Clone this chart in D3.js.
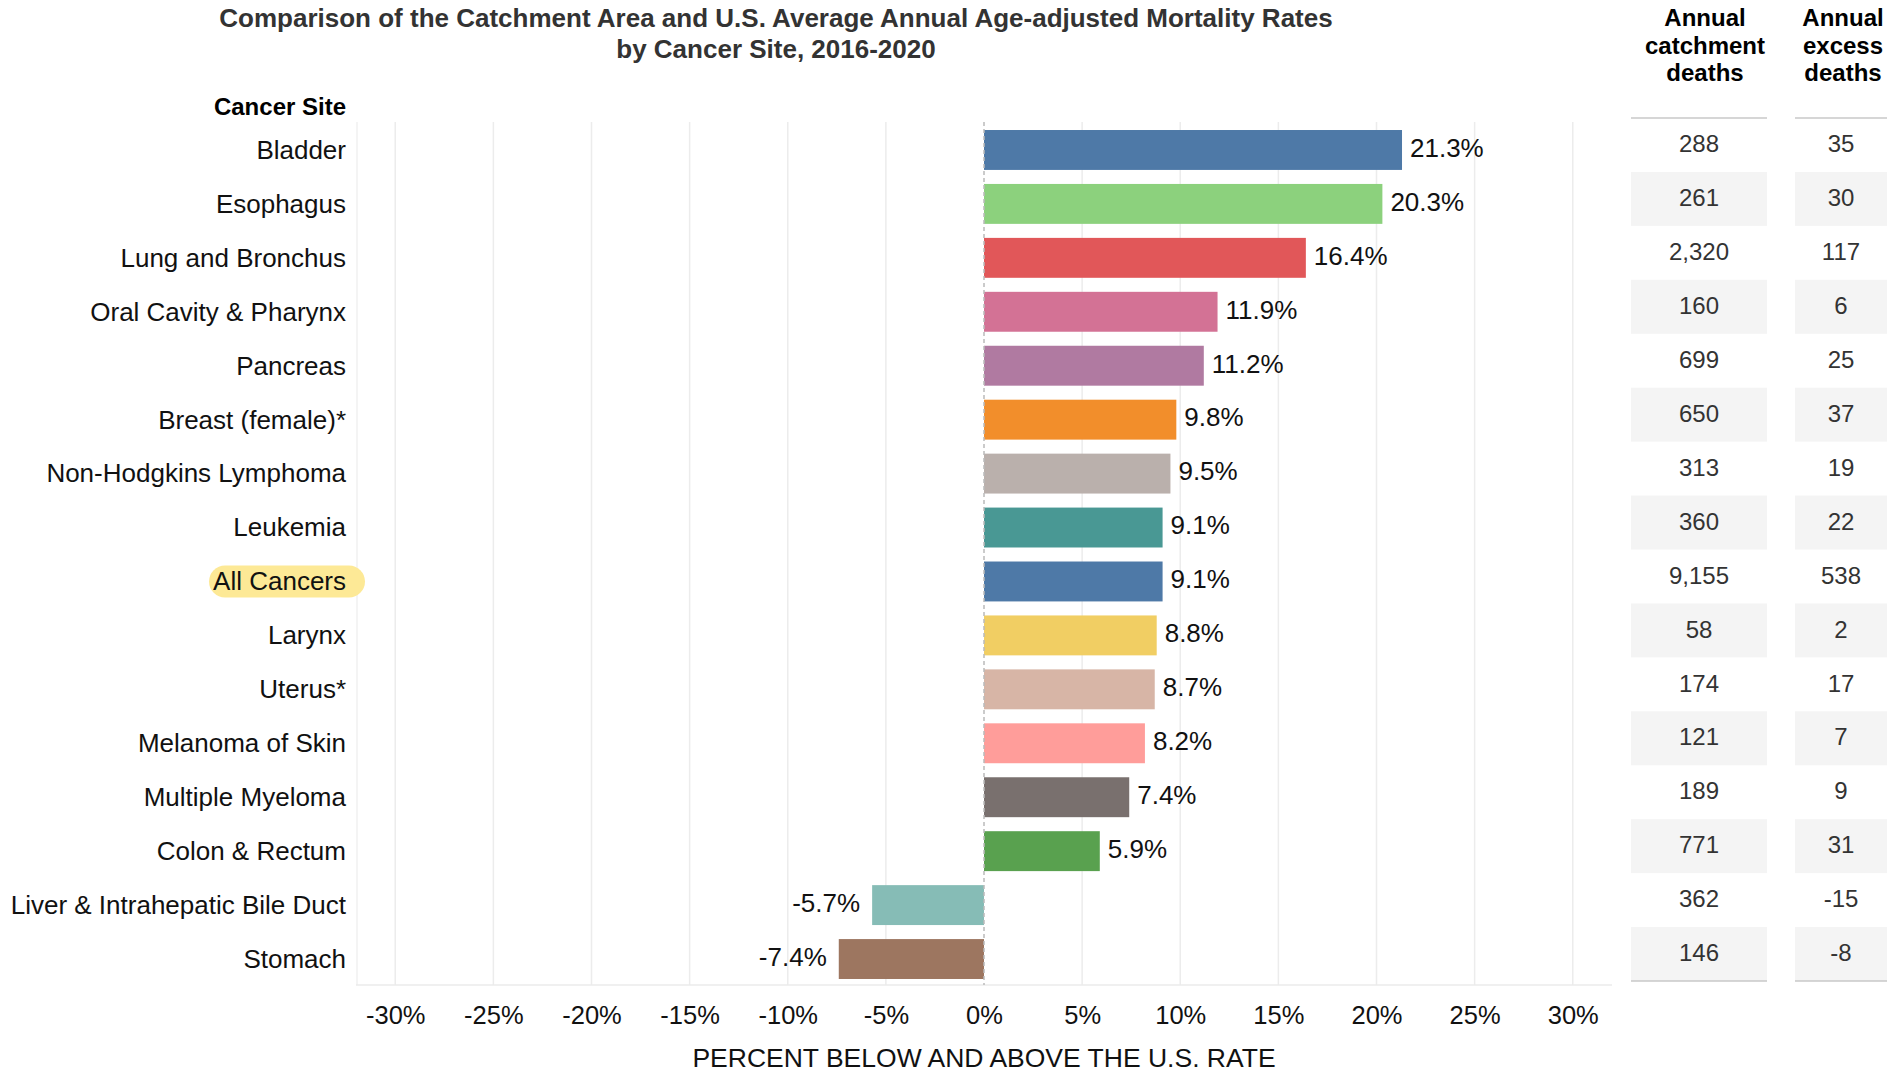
<!doctype html>
<html lang="en">
<head>
  <meta charset="utf-8">
  <style>
    body { margin: 0; background: #fff; }
    text { font-family: Arial, "Liberation Sans", sans-serif; }
  </style>
</head>
<body>
  <script src="https://d3js.org/d3.v7.min.js"></script>
  <div id="chart"></div>
  <script>
  // data
  var sites = ["Bladder", "Esophagus", "Lung and Bronchus", "Oral Cavity & Pharynx", "Pancreas",
    "Breast (female)*", "Non-Hodgkins Lymphoma", "Leukemia", "All Cancers", "Larynx", "Uterus*",
    "Melanoma of Skin", "Multiple Myeloma", "Colon & Rectum", "Liver & Intrahepatic Bile Duct", "Stomach"];
  var pctDiff = [21.3, 20.3, 16.4, 11.9, 11.2, 9.8, 9.5, 9.1, 9.1, 8.8, 8.7, 8.2, 7.4, 5.9, -5.7, -7.4];
  var catchmentDeaths = [288, 261, 2320, 160, 699, 650, 313, 360, 9155, 58, 174, 121, 189, 771, 362, 146];
  var excessDeaths = [35, 30, 117, 6, 25, 37, 19, 22, 538, 2, 17, 7, 9, 31, -15, -8];
  var barColors = ["#4e79a7", "#8cd17d", "#e15759", "#d37295", "#b07aa1", "#f28e2b", "#bab0ac", "#499894",
    "#4e79a7", "#f1ce63", "#d7b5a6", "#ff9d9a", "#79706e", "#59a14f", "#86bcb6", "#9d7660"];
  var xTicks = [-30, -25, -20, -15, -10, -5, 0, 5, 10, 15, 20, 25, 30];

  var width = 1903, height = 1073;
  var plot = {left: 356, right: 1612, top: 122, bottom: 985};

  var svg = d3.select("#chart").append("svg")
      .attr("width", width)
      .attr("height", height);

  var x = d3.scaleLinear()
      .domain([-32, 32])
      .range([plot.left, plot.right]);

  var y = d3.scaleBand()
      .domain(sites)
      .range([plot.top, plot.bottom])
      .paddingInner(0.26)
      .paddingOuter(0.13);

  // title
  var title = svg.append("text")
      .attr("x", 776)
      .attr("y", 27)
      .attr("text-anchor", "middle")
      .style("font-size", "26px")
      .style("font-weight", "bold")
      .style("fill", "#333");
  title.append("tspan").attr("x", 776).text("Comparison of the Catchment Area and U.S. Average Annual Age-adjusted Mortality Rates");
  title.append("tspan").attr("x", 776).attr("dy", 31).text("by Cancer Site, 2016-2020");

  svg.append("text")
      .attr("x", 346)
      .attr("y", 115)
      .attr("text-anchor", "end")
      .style("font-size", "24px")
      .style("font-weight", "bold")
      .style("fill", "#000")
      .text("Cancer Site");

  // grid
  svg.append("g").selectAll("line")
      .data(xTicks.filter(function (d) { return d != 0; }))
      .join("line")
      .attr("x1", function (d) { return x(d); })
      .attr("x2", function (d) { return x(d); })
      .attr("y1", plot.top)
      .attr("y2", plot.bottom)
      .attr("stroke", "#ececec")
      .attr("stroke-width", 1.5);

  svg.append("line")
      .attr("x1", plot.left + 1).attr("x2", plot.left + 1)
      .attr("y1", plot.top).attr("y2", plot.bottom)
      .attr("stroke", "#f0f0f0").attr("stroke-width", 1.5);
  svg.append("line")
      .attr("x1", plot.left).attr("x2", plot.right)
      .attr("y1", plot.bottom).attr("y2", plot.bottom)
      .attr("stroke", "#ebebeb").attr("stroke-width", 1.5);

  // highlight behind All Cancers
  svg.append("rect")
      .attr("x", 209)
      .attr("y", y("All Cancers") + y.bandwidth() / 2 - 15)
      .attr("width", 156)
      .attr("height", 32)
      .attr("rx", 16)
      .attr("fill", "#fde996");

  // bars
  svg.append("g").selectAll("rect")
      .data(sites)
      .join("rect")
      .attr("x", function (d, i) { return x(Math.min(0, pctDiff[i])); })
      .attr("y", function (d) { return y(d) + 1; })
      .attr("width", function (d, i) { return Math.abs(x(pctDiff[i]) - x(0)); })
      .attr("height", y.bandwidth())
      .attr("fill", function (d, i) { return barColors[i]; });

  // zero line
  svg.append("line")
      .attr("x1", x(0)).attr("x2", x(0))
      .attr("y1", plot.top).attr("y2", plot.bottom)
      .attr("stroke", "#bbb")
      .attr("stroke-width", 1.5)
      .attr("stroke-dasharray", "4,3");

  // value labels
  svg.append("g").selectAll("text")
      .data(sites)
      .join("text")
      .attr("x", function (d, i) { return pctDiff[i] >= 0 ? x(pctDiff[i]) + 8 : x(pctDiff[i]) - 12; })
      .attr("y", function (d) { return y(d) + y.bandwidth() / 2; })
      .attr("dy", "0.3em")
      .attr("text-anchor", function (d, i) { return pctDiff[i] >= 0 ? "start" : "end"; })
      .style("font-size", "26px")
      .style("fill", "#111")
      .text(function (d, i) { return pctDiff[i].toFixed(1) + "%"; });

  // category labels
  svg.append("g").selectAll("text")
      .data(sites)
      .join("text")
      .attr("x", 346)
      .attr("y", function (d) { return y(d) + y.bandwidth() / 2; })
      .attr("dy", "0.38em")
      .attr("text-anchor", "end")
      .style("font-size", "26px")
      .style("fill", "#111")
      .text(function (d) { return d; });

  // x axis
  var xAxis = svg.append("g")
      .attr("transform", "translate(0," + plot.bottom + ")")
      .call(d3.axisBottom(x).tickValues(xTicks).tickSize(0).tickPadding(39)
        .tickFormat(function (d) { return d + "%"; }));
  xAxis.select(".domain").remove();
  xAxis.selectAll("text")
      .attr("dy", 0)
      .style("font-size", "25.5px")
      .style("font-family", "Arial, 'Liberation Sans', sans-serif")
      .style("fill", "#111");

  svg.append("text")
      .attr("x", x(0))
      .attr("y", 1067)
      .attr("text-anchor", "middle")
      .style("font-size", "26.5px")
      .style("fill", "#111")
      .text("PERCENT BELOW AND ABOVE THE U.S. RATE");

  // side table
  var cols = [
    {head: ["Annual", "catchment", "deaths"], vals: catchmentDeaths, x0: 1631, x1: 1767, hx: 1705},
    {head: ["Annual", "excess", "deaths"], vals: excessDeaths, x0: 1795, x1: 1887, hx: 1843}
  ];
  var ty = d3.scaleBand().domain(sites).range([118, 981]);

  cols.forEach(function (c) {
    var g = svg.append("g");
    g.selectAll("text.h")
        .data(c.head)
        .join("text")
        .attr("class", "h")
        .attr("x", c.hx)
        .attr("y", function (d, i) { return 26 + i * 27.5; })
        .attr("text-anchor", "middle")
        .style("font-size", "24px")
        .style("font-weight", "bold")
        .style("fill", "#000")
        .text(function (d) { return d; });

    g.selectAll("rect")
        .data(sites.filter(function (d, i) { return i % 2 == 1; }))
        .join("rect")
        .attr("x", c.x0)
        .attr("y", function (d) { return ty(d); })
        .attr("width", c.x1 - c.x0)
        .attr("height", ty.bandwidth())
        .attr("fill", "#f4f4f4");

    g.selectAll("text.v")
        .data(sites)
        .join("text")
        .attr("class", "v")
        .attr("x", (c.x0 + c.x1) / 2)
        .attr("y", function (d) { return ty(d) + ty.bandwidth() / 2; })
        .attr("dy", "0.3em")
        .attr("text-anchor", "middle")
        .style("font-size", "24px")
        .style("fill", "#333")
        .text(function (d, i) { return c.vals[i].toLocaleString("en-US"); });

    [118, 981].forEach(function (ly) {
      g.append("line")
          .attr("x1", c.x0).attr("x2", c.x1)
          .attr("y1", ly).attr("y2", ly)
          .attr("stroke", "#c8c8c8")
          .attr("stroke-width", 1.5);
    });
  });
  </script>
</body>
</html>
